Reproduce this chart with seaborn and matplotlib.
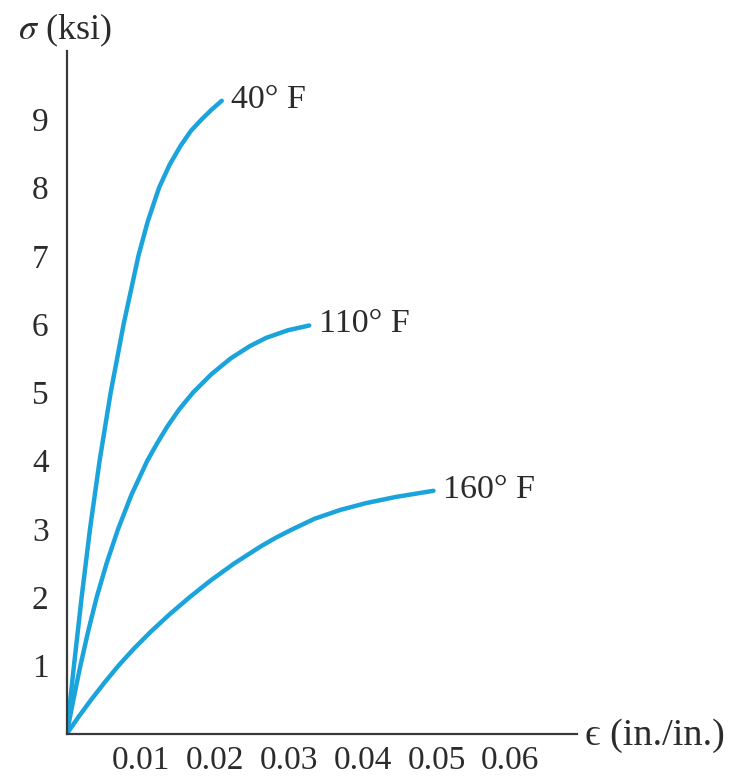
import matplotlib
matplotlib.use("Agg")
import matplotlib.pyplot as plt
import seaborn as sns
import pandas as pd

# ---- data ----
series_labels = ["40° F", "110° F", "160° F"]
strain_40 = [0.0, 0.00098, 0.00202, 0.00315, 0.00445, 0.00595, 0.00770, 0.00970,
             0.01095, 0.01250, 0.01390, 0.01540, 0.01680, 0.01827, 0.01960, 0.02097]
stress_40 = [0.0, 1.0, 2.0, 3.0, 4.0, 5.0, 6.0, 7.0,
             7.5, 8.0, 8.33, 8.61, 8.83, 9.0, 9.14, 9.27]
strain_110 = [0.0, 0.0009, 0.00185, 0.0029, 0.00405, 0.0054, 0.00695, 0.00875,
              0.0109, 0.0122, 0.0136, 0.0152, 0.0171, 0.0196, 0.0222, 0.0248,
              0.0270, 0.0299, 0.0328]
stress_110 = [0.0, 0.5, 1.0, 1.5, 2.0, 2.5, 3.0, 3.5,
              4.0, 4.25, 4.5, 4.75, 5.0, 5.27, 5.5, 5.68,
              5.8, 5.91, 5.98]
strain_160 = [0.0, 0.0016, 0.0033, 0.0051, 0.0070, 0.0091, 0.0114, 0.0139,
              0.0166, 0.0195, 0.0227, 0.0263, 0.0284, 0.0304, 0.0335, 0.0370,
              0.0405, 0.0445, 0.0496]
stress_160 = [0.0, 0.25, 0.5, 0.75, 1.0, 1.25, 1.5, 1.75,
              2.0, 2.25, 2.5, 2.75, 2.88, 2.99, 3.15, 3.28,
              3.38, 3.47, 3.56]

xticks = [0.01, 0.02, 0.03, 0.04, 0.05, 0.06]
xtick_labels = ["0.01", "0.02", "0.03", "0.04", "0.05", "0.06"]
yticks = [1, 2, 3, 4, 5, 6, 7, 8, 9]
ytick_labels = ["1", "2", "3", "4", "5", "6", "7", "8", "9"]

# ---- build long table ----
frames = []
for lab, xs, ys in zip(series_labels,
                       [strain_40, strain_110, strain_160],
                       [stress_40, stress_110, stress_160]):
    frames.append(pd.DataFrame({"strain": xs, "stress": ys, "T": lab}))
df = pd.concat(frames, ignore_index=True)

sns.set_style("white")
plt.rcParams["font.family"] = ["Liberation Serif", "DejaVu Serif"]
plt.rcParams["mathtext.fontset"] = "stix"

line_color = "#1ba3dc"
text_color = "#2b2b2b"
axis_color = "#3a3a3a"

fig = plt.figure(figsize=(7.46, 7.78), dpi=100)
ax = fig.add_axes([0.0894, 0.0566, 0.684, 0.878])

sns.lineplot(data=df, x="strain", y="stress", hue="T", units="T", estimator=None,
             sort=False, palette=[line_color] * 3, linewidth=3.2, legend=False, ax=ax)
for ln in ax.get_lines():
    ln.set_solid_joinstyle("round")
    ln.set_solid_capstyle("round")

ax.set_xlim(0, 0.069)
ax.set_ylim(0, 10)

ax.set_xticks(xticks, labels=xtick_labels)
ax.set_yticks(yticks, labels=ytick_labels)
ax.tick_params(axis="x", direction="in", length=10, width=1.2, color=axis_color,
               labelsize=24, labelcolor=text_color, pad=8)
ax.tick_params(axis="y", direction="in", length=9, width=1.2, color=axis_color,
               labelsize=24, labelcolor=text_color, pad=13)

for side in ["top", "right"]:
    ax.spines[side].set_visible(False)
for side in ["left", "bottom"]:
    ax.spines[side].set_color(axis_color)
    ax.spines[side].set_linewidth(1.6)

ax.set_xlabel("")
ax.set_ylabel("")

# axis titles
fig.text(18 / 746, 1 - 30 / 778, r"$\sigma$ (ksi)", ha="left", va="center",
         fontsize=26, color=text_color)
fig.text(585 / 746, 1 - 736 / 778, "ϵ (in./in.)", ha="left", va="center",
         fontsize=27.5, color=text_color)

# curve labels
for lab, xs, ys in zip(series_labels,
                       [strain_40, strain_110, strain_160],
                       [stress_40, stress_110, stress_160]):
    ax.annotate(lab, xy=(xs[-1], ys[-1]), xytext=(7, 1), textcoords="offset points",
                ha="left", va="center", fontsize=24.5, color=text_color,
                annotation_clip=False)

fig.savefig("out.png", dpi=100)
